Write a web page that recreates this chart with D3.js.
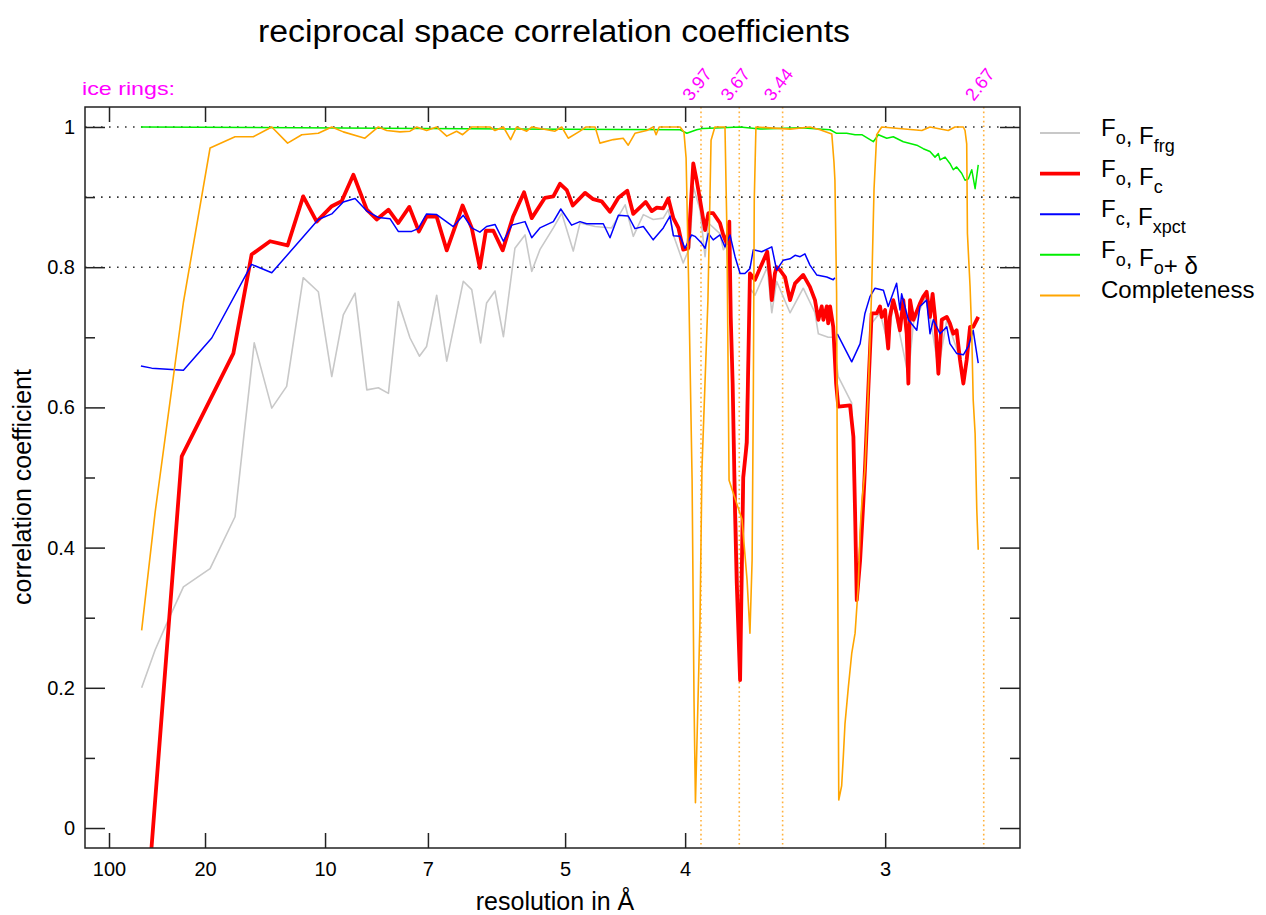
<!DOCTYPE html>
<html>
<head>
<meta charset="utf-8">
<script src="https://cdn.jsdelivr.net/npm/d3@7/dist/d3.min.js"></script>
<style>
  body { margin: 0; background: #fff; }
  svg text { font-family: "Liberation Sans", Arial, Helvetica, sans-serif; }
</style>
</head>
<body>
<div id="chart"></div>
<script>
// x values are reciprocal resolution 1/d (1/Å), y values are correlation coefficients
const resTicks = [100, 20, 10, 7, 5, 4, 3];
const ccTicks = [0, 0.2, 0.4, 0.6, 0.8, 1];
const ccMinorTicks = [0.1, 0.3, 0.5, 0.7, 0.9];
const gridLevels = [0.8, 0.9, 1];
const iceRingRes = [3.897, 3.669, 3.441, 2.671];
const iceRingLabels = ["3.97", "3.67", "3.44", "2.67"];

const foFrg = [
  [0.0236,0.200],[0.0292,0.254],[0.0347,0.297],[0.0410,0.344],[0.0521,0.370],[0.0625,0.444],[0.0662,0.560],
  [0.0705,0.692],[0.0778,0.599],[0.0840,0.630],[0.0909,0.785],[0.0972,0.765],[0.1028,0.644],[0.1076,0.732],
  [0.1125,0.763],[0.1174,0.625],[0.1222,0.628],[0.1264,0.620],[0.1305,0.751],[0.1354,0.699],[0.1393,0.673],
  [0.1423,0.687],[0.1465,0.760],[0.1507,0.666],[0.1576,0.780],[0.1611,0.768],[0.1648,0.692],[0.1673,0.749],
  [0.1708,0.766],[0.1743,0.701],[0.1791,0.827],[0.1833,0.846],[0.1861,0.794],[0.1895,0.825],[0.1951,0.856],
  [0.1986,0.877],[0.2034,0.823],[0.2062,0.863],[0.2125,0.858],[0.2194,0.856],[0.2250,0.889],[0.2284,0.844],
  [0.2326,0.875],[0.2367,0.868],[0.2409,0.870],[0.2430,0.882],[0.2451,0.846],[0.2492,0.806],[0.2520,0.829],
  [0.2534,0.915],[0.2562,0.882],[0.2583,0.815],[0.2597,0.863],[0.2645,0.848],[0.2659,0.825],[0.2673,0.830],
  [0.2690,0.720],[0.2708,0.520],[0.2729,0.250],[0.2742,0.450],[0.2770,0.770],[0.2791,0.760],[0.2842,0.800],
  [0.2861,0.735],[0.2881,0.780],[0.2937,0.735],[0.2992,0.770],[0.3041,0.735],[0.3055,0.705],[0.3096,0.700],
  [0.3117,0.700],[0.3138,0.644],[0.3194,0.606],[0.3208,0.420],[0.3215,0.330],[0.3229,0.380],[0.3249,0.510],
  [0.3277,0.720],[0.3312,0.735],[0.3346,0.690],[0.3367,0.750],[0.3430,0.645],[0.3451,0.720],[0.3506,0.760],
  [0.3555,0.655],[0.3590,0.725],[0.3645,0.670],[0.3659,0.640],[0.3687,0.710],[0.3721,0.725]
];

const foFc = [
  [0.0236,-0.210],[0.0403,0.530],[0.0618,0.677],[0.0694,0.818],[0.0771,0.837],[0.0844,0.831],[0.0909,0.901],
  [0.0965,0.865],[0.1028,0.887],[0.1069,0.894],[0.1118,0.932],[0.1174,0.882],[0.1215,0.868],[0.1264,0.882],
  [0.1305,0.863],[0.1351,0.886],[0.1391,0.851],[0.1423,0.872],[0.1465,0.872],[0.1507,0.824],[0.1573,0.888],
  [0.1611,0.856],[0.1645,0.799],[0.1670,0.852],[0.1701,0.852],[0.1740,0.824],[0.1783,0.872],[0.1829,0.907],
  [0.1861,0.870],[0.1916,0.899],[0.1951,0.901],[0.1979,0.919],[0.2007,0.910],[0.2032,0.888],[0.2083,0.906],
  [0.2117,0.897],[0.2152,0.894],[0.2187,0.879],[0.2222,0.899],[0.2259,0.909],[0.2284,0.876],[0.2336,0.893],
  [0.2361,0.880],[0.2382,0.885],[0.2409,0.884],[0.2430,0.898],[0.2451,0.870],[0.2472,0.856],[0.2492,0.825],
  [0.2513,0.827],[0.2534,0.948],[0.2548,0.924],[0.2562,0.896],[0.2583,0.853],[0.2597,0.877],[0.2617,0.877],
  [0.2645,0.863],[0.2659,0.846],[0.2673,0.834],[0.2684,0.865],[0.2690,0.729],[0.2698,0.634],[0.2708,0.450],
  [0.2715,0.350],[0.2729,0.211],[0.2742,0.500],[0.2757,0.550],[0.2770,0.791],[0.2791,0.782],[0.2833,0.815],
  [0.2842,0.822],[0.2854,0.786],[0.2861,0.753],[0.2874,0.791],[0.2881,0.800],[0.2895,0.796],[0.2916,0.786],
  [0.2937,0.753],[0.2958,0.777],[0.2992,0.789],[0.3020,0.772],[0.3041,0.753],[0.3055,0.725],[0.3069,0.744],
  [0.3076,0.725],[0.3090,0.744],[0.3096,0.720],[0.3104,0.744],[0.3117,0.715],[0.3129,0.634],[0.3138,0.601],
  [0.3187,0.603],[0.3201,0.558],[0.3208,0.450],[0.3215,0.325],[0.3229,0.382],[0.3236,0.425],[0.3242,0.463],
  [0.3249,0.511],[0.3263,0.625],[0.3277,0.734],[0.3298,0.734],[0.3312,0.744],[0.3319,0.729],[0.3333,0.739],
  [0.3340,0.705],[0.3346,0.684],[0.3353,0.729],[0.3367,0.753],[0.3381,0.734],[0.3395,0.710],[0.3409,0.753],
  [0.3423,0.705],[0.3430,0.634],[0.3437,0.753],[0.3451,0.725],[0.3478,0.748],[0.3492,0.758],[0.3506,0.765],
  [0.3520,0.729],[0.3531,0.762],[0.3541,0.729],[0.3555,0.648],[0.3569,0.725],[0.3590,0.729],[0.3603,0.720],
  [0.3617,0.705],[0.3631,0.710],[0.3645,0.668],[0.3659,0.634],[0.3673,0.668],[0.3687,0.715],[0.3700,0.715],
  [0.3721,0.729]
];

const fcFxpct = [
  [0.0233,0.659],[0.0278,0.656],[0.0410,0.653],[0.0528,0.699],[0.0694,0.804],[0.0778,0.792],[0.0972,0.868],
  [0.1028,0.876],[0.1076,0.893],[0.1125,0.898],[0.1174,0.880],[0.1222,0.871],[0.1271,0.869],[0.1305,0.851],
  [0.1361,0.851],[0.1388,0.855],[0.1423,0.876],[0.1465,0.875],[0.1534,0.858],[0.1576,0.874],[0.1611,0.856],
  [0.1645,0.850],[0.1673,0.858],[0.1708,0.861],[0.1743,0.837],[0.1778,0.860],[0.1833,0.865],[0.1861,0.842],
  [0.1895,0.856],[0.1951,0.865],[0.1982,0.883],[0.2027,0.860],[0.2062,0.865],[0.2090,0.862],[0.2159,0.862],
  [0.2187,0.842],[0.2222,0.874],[0.2263,0.873],[0.2291,0.855],[0.2326,0.858],[0.2367,0.839],[0.2409,0.856],
  [0.2437,0.873],[0.2451,0.845],[0.2479,0.844],[0.2499,0.827],[0.2527,0.846],[0.2541,0.844],[0.2569,0.834],
  [0.2583,0.827],[0.2597,0.848],[0.2617,0.839],[0.2645,0.846],[0.2666,0.829],[0.2687,0.846],[0.2708,0.815],
  [0.2729,0.791],[0.2749,0.791],[0.2770,0.798],[0.2784,0.825],[0.2819,0.822],[0.2861,0.829],[0.2881,0.796],
  [0.2909,0.810],[0.2937,0.812],[0.2958,0.817],[0.2979,0.815],[0.2999,0.819],[0.3020,0.803],[0.3048,0.789],
  [0.3090,0.786],[0.3117,0.782],[0.3124,0.785],[0.3129,null],
  [0.3134,0.705],[0.3194,0.665],[0.3229,0.691],[0.3249,0.734],[0.3270,0.758],[0.3291,0.770],[0.3326,0.767],
  [0.3346,0.744],[0.3381,0.777],[0.3395,0.739],[0.3402,0.762],[0.3430,0.725],[0.3465,0.710],[0.3478,0.744],
  [0.3506,0.753],[0.3520,0.705],[0.3534,0.725],[0.3562,0.705],[0.3590,0.715],[0.3603,0.691],[0.3631,0.677],
  [0.3659,0.675],[0.3680,0.687],[0.3700,0.710],[0.3721,0.663]
];

const foFoDelta = [
  [0.0233,1.000],[0.2479,0.996],[0.2507,0.991],[0.2548,0.996],[0.2576,0.998],[0.2729,1.000],[0.2812,0.997],
  [0.2979,0.999],[0.3104,0.996],[0.3131,0.991],[0.3173,0.991],[0.3208,0.989],[0.3236,0.989],[0.3284,0.979],
  [0.3305,0.989],[0.3340,0.984],[0.3367,0.986],[0.3409,0.979],[0.3465,0.974],[0.3492,0.969],[0.3520,0.965],
  [0.3541,0.957],[0.3555,0.962],[0.3562,0.953],[0.3583,0.957],[0.3603,0.948],[0.3617,0.939],[0.3631,0.943],
  [0.3652,0.934],[0.3666,0.924],[0.3680,0.926],[0.3694,0.939],[0.3708,0.912],[0.3721,0.946]
];

const completeness = [
  [0.0236,0.282],[0.0292,0.450],[0.0347,0.590],[0.0410,0.750],[0.0521,0.970],[0.0625,0.986],[0.0701,0.986],
  [0.0778,1.000],[0.0844,0.977],[0.0903,0.989],[0.0972,0.991],[0.1028,1.000],[0.1076,0.993],[0.1166,0.984],
  [0.1222,1.000],[0.1257,0.995],[0.1312,0.993],[0.1354,0.994],[0.1382,1.000],[0.1423,0.995],[0.1465,1.000],
  [0.1507,0.987],[0.1548,0.994],[0.1573,0.989],[0.1611,1.000],[0.1687,1.000],[0.1708,0.995],[0.1743,1.000],
  [0.1773,0.982],[0.1798,1.000],[0.1840,0.994],[0.1862,1.000],[0.1958,0.994],[0.1986,1.000],[0.2013,0.984],
  [0.2062,0.994],[0.2087,1.000],[0.2125,1.000],[0.2145,0.977],[0.2201,0.982],[0.2242,0.984],[0.2263,0.974],
  [0.2291,0.991],[0.2340,0.995],[0.2367,1.000],[0.2379,0.989],[0.2392,1.000],[0.2479,1.000],[0.2495,0.993],
  [0.2504,0.956],[0.2516,0.753],[0.2529,0.497],[0.2537,0.183],[0.2543,0.036],[0.2562,0.297],[0.2570,0.511],
  [0.2595,0.753],[0.2608,0.981],[0.2624,1.000],[0.2666,1.000],[0.2674,0.853],[0.2683,0.496],[0.2737,0.440],
  [0.2758,0.354],[0.2770,0.278],[0.2779,0.382],[0.2784,0.611],[0.2788,0.896],[0.2795,1.000],[0.2937,0.997],
  [0.3020,1.000],[0.3062,0.996],[0.3111,0.990],[0.3120,0.950],[0.3124,0.924],[0.3131,0.763],[0.3134,0.496],
  [0.3140,0.040],[0.3152,0.060],[0.3159,0.102],[0.3166,0.149],[0.3180,0.201],[0.3194,0.249],[0.3208,0.278],
  [0.3221,0.344],[0.3229,0.425],[0.3236,0.463],[0.3249,0.511],[0.3263,0.625],[0.3277,0.767],[0.3287,0.912],
  [0.3298,0.989],[0.3319,1.000],[0.3486,0.995],[0.3520,1.000],[0.3596,0.995],[0.3624,1.000],[0.3659,1.000],
  [0.3666,0.995],[0.3673,0.976],[0.3676,0.848],[0.3687,0.772],[0.3694,0.705],[0.3700,0.611],[0.3708,0.563],
  [0.3715,0.454],[0.3721,0.397]
];

const series = [
  { data: foFrg, color: "#c8c8c8", width: 1.6, label: [["F", "o"], [", F", "frg"]] },
  { data: foFc, color: "#ff0000", width: 3.8, label: [["F", "o"], [", F", "c"]] },
  { data: fcFxpct, color: "#0000ff", width: 1.5, label: [["F", "c"], [", F", "xpct"]] },
  { data: foFoDelta, color: "#00ee00", width: 1.5, label: [["F", "o"], [", F", "o"], ["+ \u03b4", null]] },
  { data: completeness, color: "#ffa500", width: 1.6, label: [["Completeness", null]] }
];

const width = 1266, height = 915;
const margin = { top: 107, right: 246, bottom: 67, left: 85 };

const svg = d3.select("#chart").append("svg")
  .attr("width", width)
  .attr("height", height);

const x = d3.scaleLinear()
  .domain([0, 0.3895])
  .range([margin.left, width - margin.right]);

const y = d3.scaleLinear()
  .domain([-0.0285, 1.0285])
  .range([height - margin.bottom, margin.top]);

const x0 = x.range()[0], x1 = x.range()[1];
const y0 = y.range()[1], y1 = y.range()[0];

svg.append("clipPath").attr("id", "plotClip")
  .append("rect")
  .attr("x", x0).attr("y", y0)
  .attr("width", x1 - x0).attr("height", y1 - y0);

// dotted reference lines
svg.append("g")
  .selectAll("line")
  .data(gridLevels)
  .join("line")
  .attr("x1", x0).attr("x2", x1)
  .attr("y1", d => y(d)).attr("y2", d => y(d))
  .attr("stroke", "#333")
  .attr("stroke-width", 1.6)
  .attr("stroke-dasharray", "1.6,6.4");

// ice rings
svg.append("g")
  .selectAll("line")
  .data(iceRingRes)
  .join("line")
  .attr("x1", d => x(1 / d)).attr("x2", d => x(1 / d))
  .attr("y1", y0).attr("y2", y1)
  .attr("stroke", "#ffb03a")
  .attr("stroke-width", 1.6)
  .attr("stroke-dasharray", "1.6,3");

svg.append("g")
  .selectAll("text")
  .data(iceRingRes)
  .join("text")
  .attr("transform", d => `translate(${x(1 / d) - 10},${y0 - 5}) rotate(-52)`)
  .attr("fill", "#ff00ff")
  .attr("font-size", 18)
  .text((d, i) => iceRingLabels[i]);

svg.append("text")
  .attr("x", 82)
  .attr("y", 95)
  .attr("fill", "#ff00ff")
  .attr("font-size", 19)
  .attr("textLength", 93)
  .attr("lengthAdjust", "spacingAndGlyphs")
  .text("ice rings:");

// data lines
const line = d3.line()
  .defined(d => d[1] !== null)
  .x(d => x(d[0]))
  .y(d => y(d[1]));

const plot = svg.append("g").attr("clip-path", "url(#plotClip)");

series.forEach(s => {
  plot.append("path")
    .datum(s.data)
    .attr("fill", "none")
    .attr("stroke", s.color)
    .attr("stroke-width", s.width)
    .attr("stroke-linejoin", "round")
    .attr("d", line);
});

// frame and ticks
const fmt = v => String(+v.toFixed(1));

svg.append("g")
  .attr("transform", `translate(0,${y1})`)
  .call(d3.axisBottom(x)
    .tickValues(resTicks.map(r => 1 / r))
    .tickSizeInner(-15).tickSizeOuter(0)
    .tickPadding(14)
    .tickFormat((d, i) => resTicks[i]));

svg.append("g")
  .attr("transform", `translate(0,${y0})`)
  .call(d3.axisTop(x)
    .tickValues(resTicks.map(r => 1 / r))
    .tickSizeInner(-15).tickSizeOuter(0)
    .tickFormat(""));

svg.append("g")
  .attr("transform", `translate(${x0},0)`)
  .call(d3.axisLeft(y)
    .tickValues(ccTicks)
    .tickSizeInner(-20).tickSizeOuter(0)
    .tickPadding(10)
    .tickFormat(fmt));

svg.append("g")
  .attr("transform", `translate(${x0},0)`)
  .call(d3.axisLeft(y).tickValues(ccMinorTicks).tickSizeInner(-10).tickSizeOuter(0).tickFormat(""));

svg.append("g")
  .attr("transform", `translate(${x1},0)`)
  .call(d3.axisRight(y).tickValues(ccTicks).tickSizeInner(-20).tickSizeOuter(0).tickFormat(""));

svg.append("g")
  .attr("transform", `translate(${x1},0)`)
  .call(d3.axisRight(y).tickValues(ccMinorTicks).tickSizeInner(-10).tickSizeOuter(0).tickFormat(""));

svg.selectAll(".domain").remove();
svg.selectAll(".tick line").attr("stroke", "#222").attr("stroke-width", 1.5);
svg.selectAll(".tick text")
  .attr("font-family", "'Liberation Sans', Arial, sans-serif")
  .attr("font-size", 20)
  .attr("fill", "#000");

svg.append("rect")
  .attr("x", x0).attr("y", y0)
  .attr("width", x1 - x0).attr("height", y1 - y0)
  .attr("fill", "none")
  .attr("stroke", "#222")
  .attr("stroke-width", 1.5);

// titles
svg.append("text")
  .attr("x", 554)
  .attr("y", 42)
  .attr("text-anchor", "middle")
  .attr("font-size", 31)
  .attr("textLength", 592)
  .attr("lengthAdjust", "spacingAndGlyphs")
  .text("reciprocal space correlation coefficients");

svg.append("text")
  .attr("x", 555)
  .attr("y", 910)
  .attr("text-anchor", "middle")
  .attr("font-size", 25)
  .text("resolution in \u00c5");

svg.append("text")
  .attr("transform", `translate(31,487) rotate(-90)`)
  .attr("text-anchor", "middle")
  .attr("font-size", 25)
  .text("correlation coefficient");

// legend
const legend = svg.append("g")
  .selectAll("g")
  .data(series)
  .join("g")
  .attr("transform", (d, i) => `translate(1040,${133 + i * 40.6})`);

legend.append("line")
  .attr("x1", 0).attr("x2", 40)
  .attr("stroke", d => d.color)
  .attr("stroke-width", d => Math.max(d.width, 2));

const legendText = legend.append("text")
  .attr("x", 61)
  .attr("y", (d, i) => i === 4 ? 3 : 3)
  .attr("font-size", 24);

legendText.each(function (d) {
  const t = d3.select(this);
  d.label.forEach(([main, sub]) => {
    t.append("tspan").text(main);
    if (sub) {
      t.append("tspan").attr("dy", 8).attr("font-size", 18).text(sub);
      t.append("tspan").attr("dy", -8).text("");
    }
  });
});
</script>
</body>
</html>
